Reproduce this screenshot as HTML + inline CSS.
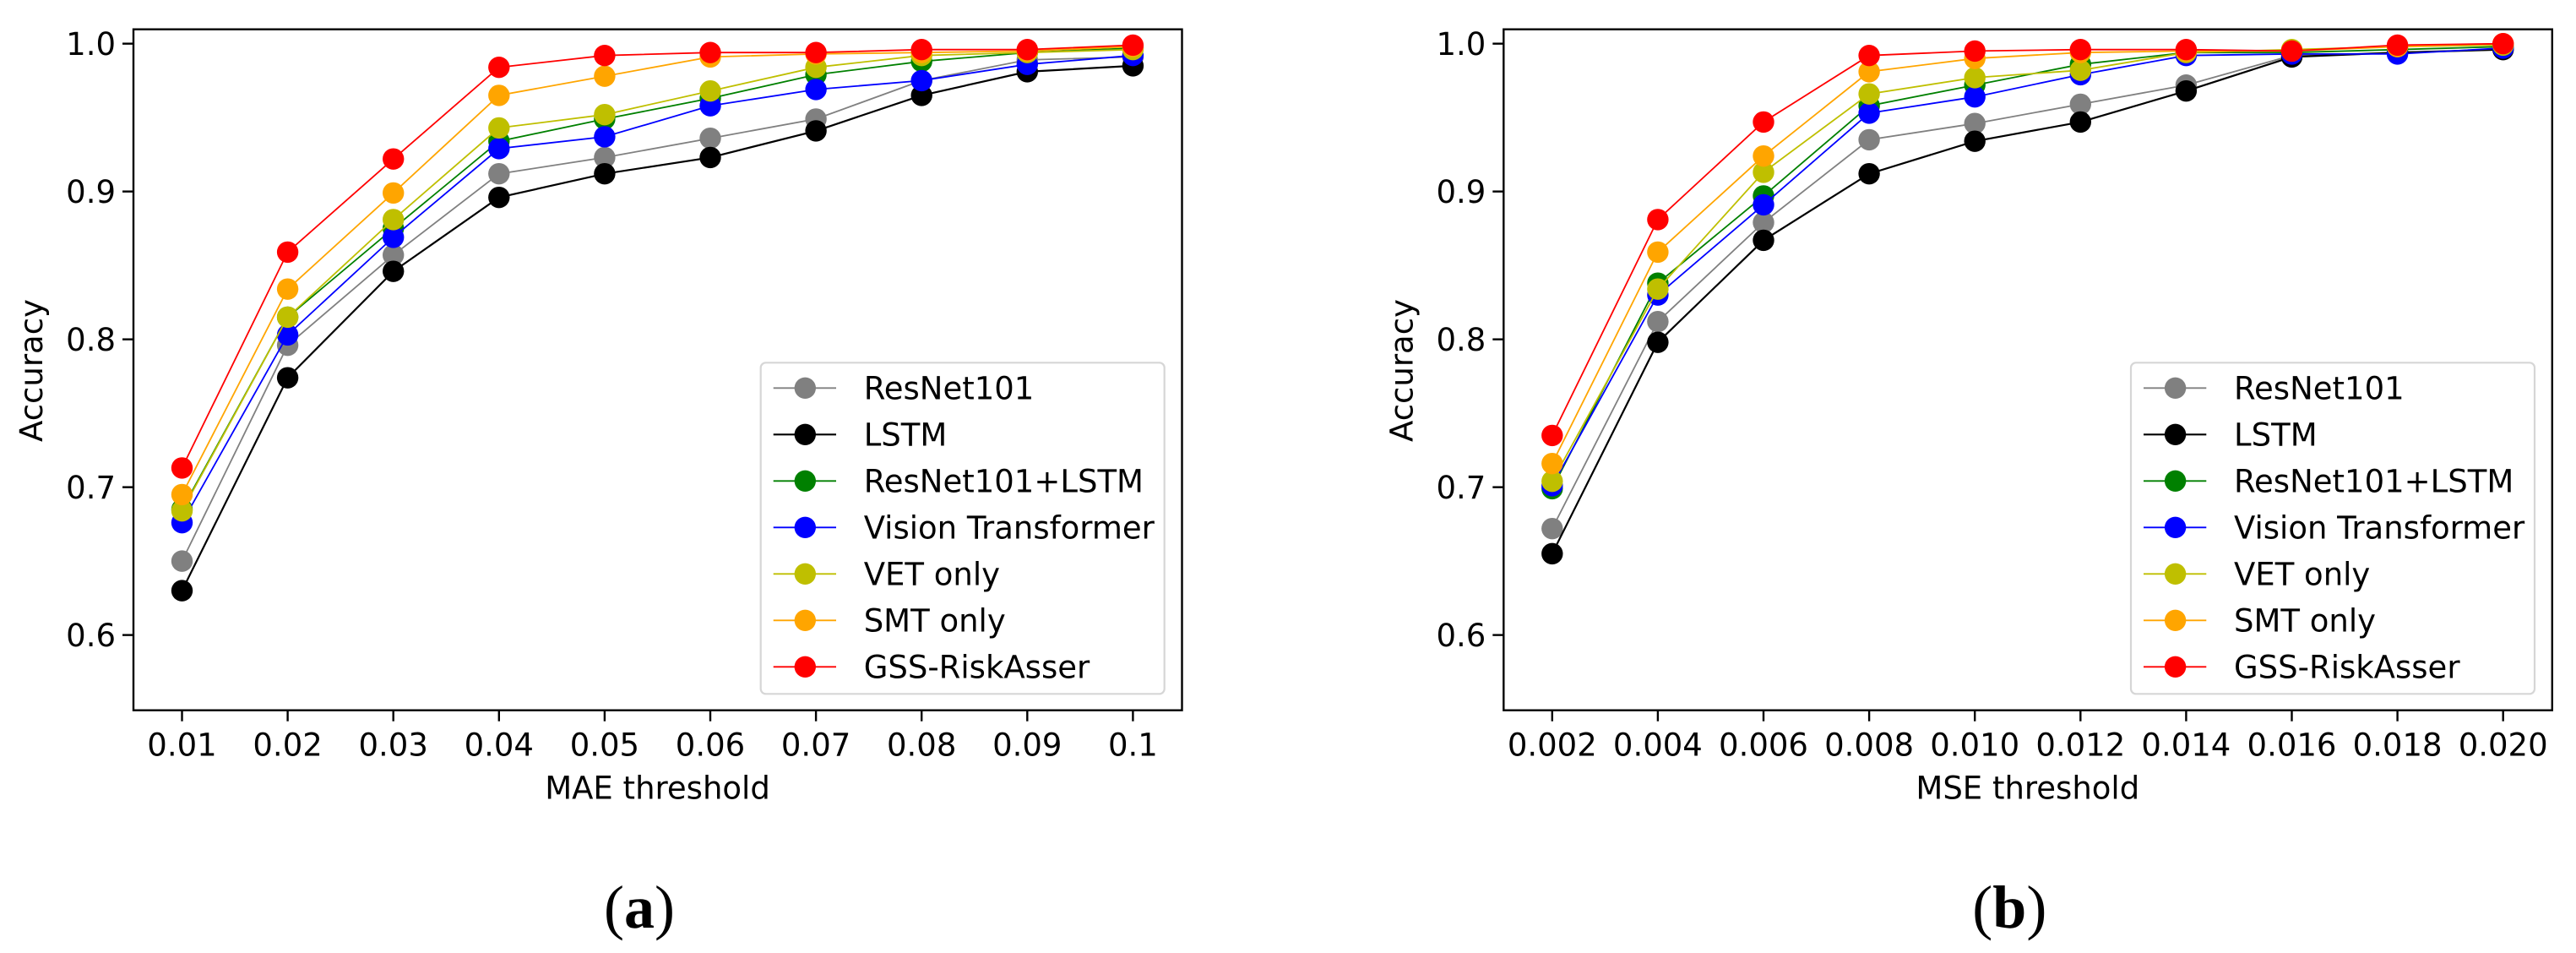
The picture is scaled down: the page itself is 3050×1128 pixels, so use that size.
<!DOCTYPE html>
<html><head><meta charset="utf-8">
<style>
html,body{margin:0;padding:0;background:#fff;}
svg{display:block;}
text{font-family:"DejaVu Sans","Liberation Sans",sans-serif;}
</style></head>
<body>
<svg id="fig" width="3050" height="1128" viewBox="0 0 3050 1128" xmlns="http://www.w3.org/2000/svg"></svg>
<script>
// ---- data ----
const maeCategories = ["0.01","0.02","0.03","0.04","0.05","0.06","0.07","0.08","0.09","0.1"];
const mseCategories = ["0.002","0.004","0.006","0.008","0.010","0.012","0.014","0.016","0.018","0.020"];
const yTicks = [0.6,0.7,0.8,0.9,1.0];
const yTickLabels = ["0.6","0.7","0.8","0.9","1.0"];
const seriesNames = ["ResNet101","LSTM","ResNet101+LSTM","Vision Transformer","VET only","SMT only","GSS-RiskAsser"];
const seriesColors = ["#808080","#000000","#008000","#0000ff","#bfbf00","#ffa500","#ff0000"];

const maeResNet = [0.650,0.796,0.857,0.912,0.923,0.936,0.949,0.975,0.989,0.991];
const maeLSTM = [0.630,0.774,0.846,0.896,0.912,0.923,0.941,0.965,0.981,0.985];
const maeResLSTM = [0.685,0.815,0.875,0.934,0.949,0.963,0.979,0.988,0.994,0.997];
const maeViT = [0.676,0.803,0.869,0.929,0.937,0.958,0.969,0.975,0.986,0.992];
const maeVET = [0.684,0.815,0.881,0.943,0.952,0.968,0.984,0.992,0.994,0.996];
const maeSMT = [0.695,0.834,0.899,0.965,0.978,0.991,0.993,0.994,0.995,0.998];
const maeGSS = [0.713,0.859,0.922,0.984,0.992,0.994,0.994,0.996,0.996,0.999];

const mseResNet = [0.672,0.812,0.879,0.935,0.946,0.959,0.972,0.992,0.994,0.996];
const mseLSTM = [0.655,0.798,0.867,0.912,0.934,0.947,0.968,0.991,0.994,0.996];
const mseResLSTM = [0.699,0.838,0.897,0.958,0.972,0.986,0.994,0.994,0.996,0.998];
const mseViT = [0.701,0.830,0.891,0.953,0.964,0.979,0.992,0.993,0.993,0.997];
const mseVET = [0.704,0.834,0.913,0.966,0.977,0.982,0.994,0.996,0.998,0.999];
const mseSMT = [0.716,0.859,0.924,0.981,0.990,0.994,0.995,0.995,0.998,1.000];
const mseGSS = [0.735,0.881,0.947,0.992,0.995,0.996,0.996,0.995,0.999,1.000];

const NS = "http://www.w3.org/2000/svg";
const svg = document.getElementById('fig');
function mk(tag, attrs, parent){
  const e = document.createElementNS(NS, tag);
  for (const k in attrs) e.setAttribute(k, attrs[k]);
  (parent||svg).appendChild(e);
  return e;
}

function drawPanel(opt){
  const L=opt.left, R=opt.left+1241.5, T=34.7, B=840.7;
  const yMin=0.5491, yMax=1.0097;
  const yScale = v => B - (v - yMin)/(yMax - yMin)*(B - T);
  const xScale = i => L + 57.5 + i*125.1;
  const g = mk('g', {});
  
  

  // series
  opt.series.forEach((vals, s) => {
    const sg = mk('g', {}, g);
    
    
    const pts = vals.map((v,i)=> xScale(i).toFixed(1)+','+yScale(v).toFixed(1)).join(' ');
    const pl = mk('polyline', {points:pts, fill:'none', stroke:seriesColors[s], 'stroke-width': s===1?2.2:1.8}, sg);
    
    
    vals.forEach((v,i)=>{
      const c = mk('circle', {cx:xScale(i), cy:yScale(v), r:12.7, fill:seriesColors[s]}, sg);
      
      
    });
  });

  // axes frame
  const fr = mk('rect', {x:L, y:T, width:R-L, height:B-T, fill:'none', stroke:'#000', 'stroke-width':2.4}, g);
  
  

  // y ticks
  yTicks.forEach((t,i)=>{
    const y = yScale(t);
    const tk = mk('line', {x1:L-13, x2:L, y1:y, y2:y, stroke:'#000', 'stroke-width':2.4}, g);
    
    
    const tx = mk('text', {x:L-21, y:y+13.5, 'font-size':37, 'text-anchor':'end', fill:'#000'}, g);
    tx.textContent = yTickLabels[i];
    
    
  });
  // x ticks
  opt.categories.forEach((c,i)=>{
    const x = xScale(i);
    const tk = mk('line', {x1:x, x2:x, y1:B, y2:B+13, stroke:'#000', 'stroke-width':2.4}, g);
    
    
    const tx = mk('text', {x:x, y:894.3, 'font-size':37, 'text-anchor':'middle', fill:'#000'}, g);
    tx.textContent = c;
    
    
  });
  // axis titles
  const xt = mk('text', {x:L+620.5, y:945.7, 'font-size':37, 'text-anchor':'middle', fill:'#000'}, g);
  xt.textContent = opt.xTitle;
  
  
  const yt = mk('text', {x:0, y:0, 'font-size':37, 'text-anchor':'middle', fill:'#000', transform:'translate('+(L-108)+',438.5) rotate(-90)'}, g);
  yt.textContent = 'Accuracy';
  
  

  // legend
  const lg = mk('g', {}, g);
  
  
  const lx = L + 742.7;
  const lb = mk('rect', {x:lx, y:429.3, width:478, height:392, rx:6, fill:'#fff', 'fill-opacity':0.8, stroke:'#d6d6d6', 'stroke-width':2.2}, lg);
  
  
  seriesNames.forEach((n,s)=>{
    const cy = 459.3 + s*55;
    const eg = mk('g', {}, lg);
    
    
    mk('line', {x1:lx+15, x2:lx+89.3, y1:cy, y2:cy, stroke:seriesColors[s], 'stroke-width': s===1?2.2:1.8}, eg);
    mk('circle', {cx:lx+52.6, cy:cy, r:12.7, fill:seriesColors[s]}, eg);
    const t = mk('text', {x:lx+122, y:cy+13, 'font-size':37, fill:'#000'}, eg);
    t.textContent = n;
  });

  // panel caption
  const cap = mk('text', {x:L+599, y:1098, 'font-size':72, 'text-anchor':'middle', fill:'#000', style:'font-family:"Liberation Serif",serif'}, g);
  cap.innerHTML = '<tspan font-weight="normal">(</tspan><tspan font-weight="bold">'+opt.caption+'</tspan><tspan font-weight="normal">)</tspan>';
  
  
}

drawPanel({name:'mae-chart', left:158, categories:maeCategories, xTitle:'MAE threshold', caption:'a',
  series:[maeResNet,maeLSTM,maeResLSTM,maeViT,maeVET,maeSMT,maeGSS]});
drawPanel({name:'mse-chart', left:1780.3, categories:mseCategories, xTitle:'MSE threshold', caption:'b',
  series:[mseResNet,mseLSTM,mseResLSTM,mseViT,mseVET,mseSMT,mseGSS]});
</script>
</body></html>
